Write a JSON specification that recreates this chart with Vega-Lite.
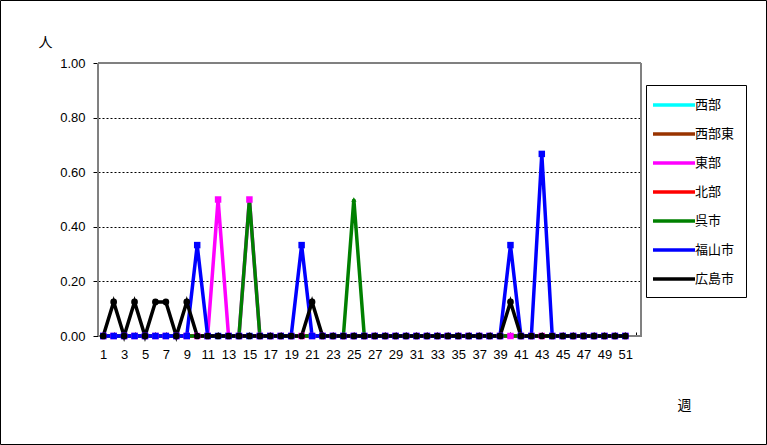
{
  "$schema": "https://vega.github.io/schema/vega-lite/v6.json",
  "width": 766,
  "height": 444,
  "autosize": {"type": "none"},
  "padding": {"left": 0, "top": 0, "right": 1, "bottom": 1},
  "background": "white",
  "config": {
    "view": {"stroke": "black", "strokeWidth": 1},
    "font": "Liberation Sans"
  },
  "datasets": {
    "weeks": [
      {"week": 1, "西部": 0, "西部東": 0, "東部": 0, "北部": 0, "呉市": 0, "福山市": 0, "広島市": 0},
      {"week": 2, "西部": 0, "西部東": 0, "東部": 0, "北部": 0, "呉市": 0, "福山市": 0, "広島市": 0.125},
      {"week": 3, "西部": 0, "西部東": 0, "東部": 0, "北部": 0, "呉市": 0, "福山市": 0, "広島市": 0},
      {"week": 4, "西部": 0, "西部東": 0, "東部": 0, "北部": 0, "呉市": 0, "福山市": 0, "広島市": 0.125},
      {"week": 5, "西部": 0, "西部東": 0, "東部": 0, "北部": 0, "呉市": 0, "福山市": 0, "広島市": 0},
      {"week": 6, "西部": 0, "西部東": 0, "東部": 0, "北部": 0, "呉市": 0, "福山市": 0, "広島市": 0.125},
      {"week": 7, "西部": 0, "西部東": 0, "東部": 0, "北部": 0, "呉市": 0, "福山市": 0, "広島市": 0.125},
      {"week": 8, "西部": 0, "西部東": 0, "東部": 0, "北部": 0, "呉市": 0, "福山市": 0, "広島市": 0},
      {"week": 9, "西部": 0, "西部東": 0, "東部": 0, "北部": 0, "呉市": 0, "福山市": 0, "広島市": 0.125},
      {"week": 10, "西部": 0, "西部東": 0, "東部": 0, "北部": 0, "呉市": 0, "福山市": 0.333, "広島市": 0},
      {"week": 11, "西部": 0, "西部東": 0, "東部": 0, "北部": 0, "呉市": 0, "福山市": 0, "広島市": 0},
      {"week": 12, "西部": 0, "西部東": 0, "東部": 0.5, "北部": 0, "呉市": 0, "福山市": 0, "広島市": 0},
      {"week": 13, "西部": 0, "西部東": 0, "東部": 0, "北部": 0, "呉市": 0, "福山市": 0, "広島市": 0},
      {"week": 14, "西部": 0, "西部東": 0, "東部": 0, "北部": 0, "呉市": 0, "福山市": 0, "広島市": 0},
      {"week": 15, "西部": 0, "西部東": 0, "東部": 0.5, "北部": 0, "呉市": 0.5, "福山市": 0, "広島市": 0},
      {"week": 16, "西部": 0, "西部東": 0, "東部": 0, "北部": 0, "呉市": 0, "福山市": 0, "広島市": 0},
      {"week": 17, "西部": 0, "西部東": 0, "東部": 0, "北部": 0, "呉市": 0, "福山市": 0, "広島市": 0},
      {"week": 18, "西部": 0, "西部東": 0, "東部": 0, "北部": 0, "呉市": 0, "福山市": 0, "広島市": 0},
      {"week": 19, "西部": 0, "西部東": 0, "東部": 0, "北部": 0, "呉市": 0, "福山市": 0, "広島市": 0},
      {"week": 20, "西部": 0, "西部東": 0, "東部": 0, "北部": 0, "呉市": 0, "福山市": 0.333, "広島市": 0},
      {"week": 21, "西部": 0, "西部東": 0, "東部": 0, "北部": 0, "呉市": 0, "福山市": 0, "広島市": 0.125},
      {"week": 22, "西部": 0, "西部東": 0, "東部": 0, "北部": 0, "呉市": 0, "福山市": 0, "広島市": 0},
      {"week": 23, "西部": 0, "西部東": 0, "東部": 0, "北部": 0, "呉市": 0, "福山市": 0, "広島市": 0},
      {"week": 24, "西部": 0, "西部東": 0, "東部": 0, "北部": 0, "呉市": 0, "福山市": 0, "広島市": 0},
      {"week": 25, "西部": 0, "西部東": 0, "東部": 0, "北部": 0, "呉市": 0.5, "福山市": 0, "広島市": 0},
      {"week": 26, "西部": 0, "西部東": 0, "東部": 0, "北部": 0, "呉市": 0, "福山市": 0, "広島市": 0},
      {"week": 27, "西部": 0, "西部東": 0, "東部": 0, "北部": 0, "呉市": 0, "福山市": 0, "広島市": 0},
      {"week": 28, "西部": 0, "西部東": 0, "東部": 0, "北部": 0, "呉市": 0, "福山市": 0, "広島市": 0},
      {"week": 29, "西部": 0, "西部東": 0, "東部": 0, "北部": 0, "呉市": 0, "福山市": 0, "広島市": 0},
      {"week": 30, "西部": 0, "西部東": 0, "東部": 0, "北部": 0, "呉市": 0, "福山市": 0, "広島市": 0},
      {"week": 31, "西部": 0, "西部東": 0, "東部": 0, "北部": 0, "呉市": 0, "福山市": 0, "広島市": 0},
      {"week": 32, "西部": 0, "西部東": 0, "東部": 0, "北部": 0, "呉市": 0, "福山市": 0, "広島市": 0},
      {"week": 33, "西部": 0, "西部東": 0, "東部": 0, "北部": 0, "呉市": 0, "福山市": 0, "広島市": 0},
      {"week": 34, "西部": 0, "西部東": 0, "東部": 0, "北部": 0, "呉市": 0, "福山市": 0, "広島市": 0},
      {"week": 35, "西部": 0, "西部東": 0, "東部": 0, "北部": 0, "呉市": 0, "福山市": 0, "広島市": 0},
      {"week": 36, "西部": 0, "西部東": 0, "東部": 0, "北部": 0, "呉市": 0, "福山市": 0, "広島市": 0},
      {"week": 37, "西部": 0, "西部東": 0, "東部": 0, "北部": 0, "呉市": 0, "福山市": 0, "広島市": 0},
      {"week": 38, "西部": 0, "西部東": 0, "東部": 0, "北部": 0, "呉市": 0, "福山市": 0, "広島市": 0},
      {"week": 39, "西部": 0, "西部東": 0, "東部": 0, "北部": 0, "呉市": 0, "福山市": 0, "広島市": 0},
      {"week": 40, "西部": 0, "西部東": 0, "東部": 0, "北部": 0, "呉市": 0, "福山市": 0.333, "広島市": 0.125},
      {"week": 41, "西部": 0, "西部東": 0, "東部": 0, "北部": 0, "呉市": 0, "福山市": 0, "広島市": 0},
      {"week": 42, "西部": 0, "西部東": 0, "東部": 0, "北部": 0, "呉市": 0, "福山市": 0, "広島市": 0},
      {"week": 43, "西部": 0, "西部東": 0, "東部": 0, "北部": 0, "呉市": 0, "福山市": 0.667, "広島市": 0},
      {"week": 44, "西部": 0, "西部東": 0, "東部": 0, "北部": 0, "呉市": 0, "福山市": 0, "広島市": 0},
      {"week": 45, "西部": 0, "西部東": 0, "東部": 0, "北部": 0, "呉市": 0, "福山市": 0, "広島市": 0},
      {"week": 46, "西部": 0, "西部東": 0, "東部": 0, "北部": 0, "呉市": 0, "福山市": 0, "広島市": 0},
      {"week": 47, "西部": 0, "西部東": 0, "東部": 0, "北部": 0, "呉市": 0, "福山市": 0, "広島市": 0},
      {"week": 48, "西部": 0, "西部東": 0, "東部": 0, "北部": 0, "呉市": 0, "福山市": 0, "広島市": 0},
      {"week": 49, "西部": 0, "西部東": 0, "東部": 0, "北部": 0, "呉市": 0, "福山市": 0, "広島市": 0},
      {"week": 50, "西部": 0, "西部東": 0, "東部": 0, "北部": 0, "呉市": 0, "福山市": 0, "広島市": 0},
      {"week": 51, "西部": 0, "西部東": 0, "東部": 0, "北部": 0, "呉市": 0, "福山市": 0, "広島市": 0}
    ]
  },
  "data": {"name": "weeks"},
  "transform": [
    {"fold": ["西部", "西部東", "東部", "北部", "呉市", "福山市", "広島市"], "as": ["series", "value"]}
  ],
  "encoding": {
    "x": {
      "field": "week",
      "type": "quantitative",
      "scale": {"domain": [0.5, 52.5], "range": [98, 641], "nice": false, "zero": false},
      "axis": {
        "orient": "bottom",
        "offset": -108,
        "values": [1,2,3,4,5,6,7,8,9,10,11,12,13,14,15,16,17,18,19,20,21,22,23,24,25,26,27,28,29,30,31,32,33,34,35,36,37,38,39,40,41,42,43,44,45,46,47,48,49,50,51,52],
        "labelExpr": "datum.value % 2 == 1 ? datum.label : ''",
        "labelAngle": 0,
        "labelFlush": false,
        "labelOverlap": false,
        "labelFont": "Liberation Sans",
        "labelFontSize": 13,
        "labelColor": "black",
        "labelPadding": 16,
        "tickSize": -4,
        "tickColor": "black",
        "domainColor": "black",
        "grid": false,
        "title": "週",
        "titleFont": "Noto Sans CJK JP",
        "titleFontSize": 14,
        "titleFontWeight": "normal",
        "titleColor": "black",
        "titleX": 684,
        "titleY": 69,
        "titleAlign": "center",
        "titleBaseline": "middle"
      }
    },
    "y": {
      "field": "value",
      "type": "quantitative",
      "scale": {"domain": [0, 1], "range": [336, 63], "nice": false},
      "axis": {
        "orient": "left",
        "offset": -98,
        "values": [0, 0.2, 0.4, 0.6, 0.8, 1],
        "format": ".2f",
        "labelFont": "Liberation Sans",
        "labelFontSize": 13,
        "labelColor": "black",
        "labelPadding": 8,
        "tickSize": 5,
        "tickColor": "black",
        "domainColor": "black",
        "grid": true,
        "gridColor": "black",
        "gridDash": [2, 2],
        "gridOpacity": {"condition": {"test": "datum.value < 0.1 || datum.value > 0.9", "value": 0}, "value": 1},
        "title": "人",
        "titleAngle": 0,
        "titleFont": "Noto Sans CJK JP",
        "titleFontSize": 14,
        "titleFontWeight": "normal",
        "titleColor": "black",
        "titleX": -53,
        "titleY": 42,
        "titleAlign": "center",
        "titleBaseline": "middle"
      }
    }
  },
  "layer": [
    {
      "mark": {"type": "rect", "fillOpacity": 0, "stroke": "#808080", "strokeWidth": 1},
      "encoding": {
        "x": {"datum": 0.5, "type": "quantitative"},
        "x2": {"datum": 52.5},
        "y": {"datum": 0, "type": "quantitative"},
        "y2": {"datum": 1}
      }
    },
    {
      "mark": {"type": "line", "strokeWidth": 3.5},
      "encoding": {
        "color": {
          "field": "series",
          "type": "nominal",
          "scale": {
            "domain": ["西部", "西部東", "東部", "北部", "呉市", "福山市", "広島市"],
            "range": ["#00FFFF", "#993300", "#FF00FF", "#FF0000", "#008000", "#0000FF", "#000000"]
          },
          "legend": {
            "orient": "none",
            "legendX": 646,
            "legendY": 85,
            "title": null,
            "strokeColor": "black",
            "fillColor": "white",
            "padding": 11,
            "symbolType": "M-3,0H3",
            "symbolSize": 196,
            "symbolStrokeWidth": 3.5,
            "symbolOffset": 8,
            "labelOffset": 12,
            "labelFont": "Noto Sans CJK JP",
            "labelFontSize": 13,
            "labelColor": "black",
            "rowPadding": 13
          }
        }
      }
    },
    {
      "transform": [{"filter": "datum.series == '西部' || datum.series == '北部' || datum.series == '呉市'"}],
      "mark": {"type": "point", "shape": "triangle-up", "filled": true, "size": 28, "opacity": 1},
      "encoding": {
        "fill": {"field": "series", "type": "nominal", "scale": {"domain": ["西部", "西部東", "東部", "北部", "呉市", "福山市", "広島市"], "range": ["#00FFFF", "#993300", "#FF00FF", "#FF0000", "#008000", "#0000FF", "#000000"]}, "legend": null}
      }
    },
    {
      "transform": [{"filter": "datum.series == '西部東'"}],
      "mark": {"type": "point", "shape": "diamond", "filled": true, "size": 28, "opacity": 1},
      "encoding": {
        "fill": {"field": "series", "type": "nominal", "legend": null}
      }
    },
    {
      "transform": [{"filter": "datum.series == '東部' || datum.series == '福山市'"}],
      "mark": {"type": "point", "shape": "square", "filled": true, "size": 42, "opacity": 1},
      "encoding": {
        "fill": {"field": "series", "type": "nominal", "legend": null}
      }
    },
    {
      "transform": [{"filter": "datum.series == '広島市'"}],
      "mark": {"type": "point", "shape": "circle", "filled": true, "size": 45, "opacity": 1},
      "encoding": {
        "fill": {"field": "series", "type": "nominal", "legend": null}
      }
    }
  ]
}
